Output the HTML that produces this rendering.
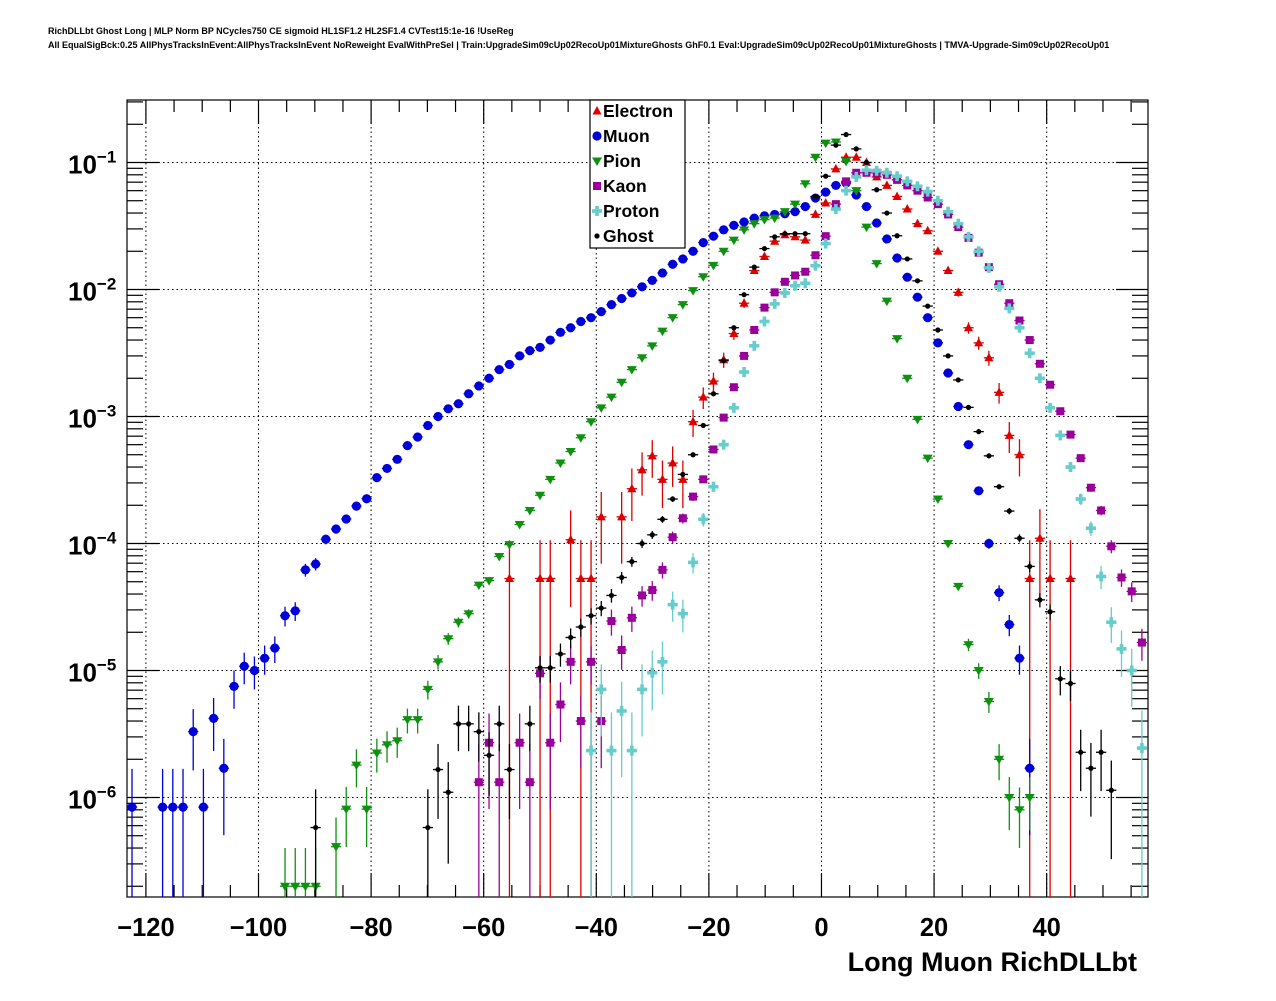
<!DOCTYPE html>
<html><head><meta charset="utf-8"><style>
body{margin:0;background:#fff;}
svg text{font-family:"Liberation Sans",Arial,sans-serif;}
</style></head><body>
<svg id="c" width="1276" height="996" xmlns="http://www.w3.org/2000/svg">
<rect width="1276" height="996" fill="#fff"/>
<text x="48" y="34" font-size="9" font-weight="bold">RichDLLbt Ghost Long | MLP Norm BP NCycles750 CE sigmoid HL1SF1.2 HL2SF1.4 CVTest15:1e-16 !UseReg</text>
<text x="48" y="48" font-size="9" font-weight="bold">All EqualSigBck:0.25 AllPhysTracksInEvent:AllPhysTracksInEvent NoReweight EvalWithPreSel | Train:UpgradeSim09cUp02RecoUp01MixtureGhosts GhF0.1 Eval:UpgradeSim09cUp02RecoUp01MixtureGhosts | TMVA-Upgrade-Sim09cUp02RecoUp01</text>
<g id="grid"></g><g id="axes"></g><g id="marks"></g><g id="legend"></g>
</svg>
<script>
const xMin = -123.36, xMax = 58.0;
const binFirst = -122.47, binWidth = 1.812;
const xTicks = [-120,-100,-80,-60,-40,-20,0,20,40];
const yDecades = [-1,-2,-3,-4,-5,-6];
const muonStart = 0;
const muonVals = [8.4e-7,null,null,8.4e-7,8.4e-7,8.4e-7,3.3e-6,8.4e-7,4.2e-6,1.7e-6,7.5e-6,1.08e-5,1.0e-5,1.25e-5,1.5e-5,2.7e-5,2.95e-5,6.2e-5,6.9e-5,1.08e-4,1.3e-4,1.56e-4,1.97e-4,2.25e-4,3.3e-4,3.9e-4,4.6e-4,5.9e-4,6.9e-4,8.5e-4,1.0e-3,1.15e-3,1.26e-3,1.51e-3,1.74e-3,2.0e-3,2.34e-3,2.57e-3,3.0e-3,3.3e-3,3.5e-3,4.0e-3,4.6e-3,5.0e-3,5.6e-3,6.0e-3,6.7e-3,7.6e-3,8.5e-3,9.4e-3,1.05e-2,1.18e-2,1.35e-2,1.58e-2,1.74e-2,2.0e-2,2.34e-2,2.63e-2,2.95e-2,3.2e-2,3.4e-2,3.65e-2,3.8e-2,3.9e-2,3.95e-2,4.1e-2,4.5e-2,5.25e-2,5.85e-2,6.6e-2,6.9e-2,5.55e-2,4.5e-2,3.34e-2,2.5e-2,1.77e-2,1.25e-2,8.7e-3,6.0e-3,3.8e-3,2.2e-3,1.2e-3,6.0e-4,2.6e-4,1.0e-4,4.1e-5,2.3e-5,1.25e-5,1.7e-6];
const pionStart = 15;
const pionVals = [2.0e-7,2.0e-7,2.0e-7,2.0e-7,null,4.1e-7,8.1e-7,1.8e-6,8.1e-7,2.24e-6,2.6e-6,2.8e-6,4.1e-6,4.1e-6,7.1e-6,1.17e-5,1.78e-5,2.4e-5,2.8e-5,4.7e-5,5.1e-5,7.9e-5,9.8e-5,1.41e-4,1.82e-4,2.4e-4,3.2e-4,4.3e-4,5.3e-4,6.8e-4,9.1e-4,1.17e-3,1.42e-3,1.86e-3,2.34e-3,2.9e-3,3.6e-3,4.7e-3,6.0e-3,7.6e-3,9.8e-3,1.26e-2,1.55e-2,2.0e-2,2.45e-2,2.95e-2,3.3e-2,3.55e-2,3.65e-2,4.1e-2,4.7e-2,6.8e-2,1.1e-1,1.42e-1,1.45e-1,1.02e-1,6.0e-2,3.1e-2,1.6e-2,8.1e-3,4.1e-3,2.0e-3,9.5e-4,4.7e-4,2.24e-4,1.0e-4,4.6e-5,1.6e-5,1.0e-5,5.7e-6,2.0e-6,1.0e-6,8.0e-7,1.0e-6];
const electronStart = 37;
const electronVals = [5.3e-5,null,null,5.3e-5,5.3e-5,null,1.07e-4,5.3e-5,5.3e-5,1.62e-4,null,1.62e-4,2.7e-4,3.8e-4,4.9e-4,3.2e-4,4.3e-4,3.2e-4,9.1e-4,1.42e-3,1.9e-3,2.8e-3,4.5e-3,7.8e-3,1.41e-2,1.82e-2,2.4e-2,2.7e-2,2.6e-2,2.45e-2,3.9e-2,4.8e-2,8.9e-2,1.1e-1,1.1e-1,1.0e-1,7.7e-2,6.6e-2,5.4e-2,4.3e-2,3.3e-2,2.9e-2,2.0e-2,1.41e-2,9.5e-3,5.0e-3,3.8e-3,2.9e-3,1.55e-3,7.1e-4,5.0e-4,5.3e-5,1.1e-4,5.3e-5,null,5.3e-5];
const kaonStart = 34;
const kaonVals = [1.32e-6,2.7e-6,1.32e-6,null,2.7e-6,1.32e-6,9.5e-6,2.7e-6,5.4e-6,1.17e-5,4.0e-6,1.17e-5,4.0e-6,2.45e-5,1.45e-5,2.6e-5,3.9e-5,4.3e-5,6.2e-5,1.12e-4,1.58e-4,2.34e-4,3.2e-4,5.5e-4,9.8e-4,1.7e-3,3.0e-3,4.8e-3,7.2e-3,9.5e-3,1.15e-2,1.29e-2,1.38e-2,1.86e-2,2.63e-2,4.7e-2,7.1e-2,8.3e-2,8.3e-2,8.3e-2,8.0e-2,7.3e-2,6.6e-2,6.0e-2,5.3e-2,4.7e-2,3.9e-2,3.1e-2,2.55e-2,1.95e-2,1.5e-2,1.1e-2,7.8e-3,5.7e-3,4.0e-3,2.6e-3,1.78e-3,1.1e-3,7.2e-4,4.7e-4,2.75e-4,1.82e-4,9.5e-5,5.4e-5,4.2e-5,1.66e-5];
const protonStart = 45;
const protonVals = [2.34e-6,7.1e-6,2.34e-6,4.8e-6,2.34e-6,7.1e-6,9.6e-6,1.17e-5,3.3e-5,2.8e-5,7.1e-5,1.55e-4,2.8e-4,6.0e-4,1.17e-3,2.24e-3,3.6e-3,5.6e-3,7.7e-3,9.4e-3,1.07e-2,1.12e-2,1.54e-2,2.3e-2,4.3e-2,6.0e-2,7.7e-2,8.7e-2,8.6e-2,8.3e-2,7.8e-2,7.1e-2,6.5e-2,5.9e-2,5.0e-2,4.1e-2,3.3e-2,2.6e-2,2.0e-2,1.48e-2,1.05e-2,7.1e-3,5.0e-3,3.15e-3,2.0e-3,1.17e-3,7.1e-4,4.0e-4,2.24e-4,1.32e-4,5.5e-5,2.4e-5,1.48e-5,1.0e-5,2.45e-6];
const ghostStart = 18;
const ghostVals = [5.8e-7,null,null,null,null,null,null,null,null,null,null,5.8e-7,1.66e-6,1.1e-6,3.8e-6,3.8e-6,3.3e-6,2.15e-6,3.8e-6,1.66e-6,null,3.8e-6,1.05e-5,1.05e-5,1.35e-5,1.82e-5,2.2e-5,2.7e-5,3.1e-5,3.9e-5,5.4e-5,7.2e-5,1.0e-4,1.17e-4,1.55e-4,2.24e-4,3.5e-4,5.0e-4,8.5e-4,1.51e-3,2.75e-3,5.0e-3,9.1e-3,1.5e-2,2.1e-2,2.6e-2,2.75e-2,2.75e-2,2.75e-2,5.4e-2,7.8e-2,1.37e-1,1.66e-1,1.28e-1,1.0e-1,6.1e-2,4.0e-2,2.65e-2,1.74e-2,1.17e-2,7.4e-3,4.8e-3,3.0e-3,1.94e-3,1.18e-3,7.6e-4,4.9e-4,2.8e-4,1.8e-4,1.1e-4,6.6e-5,3.6e-5,2.9e-5,8.6e-6,7.9e-6,2.27e-6,1.7e-6,2.27e-6,1.14e-6];
const seriesNames = ["Electron","Muon","Pion","Kaon","Proton","Ghost"];
const unitWeights = [5.3e-5,8.4e-7,2.0e-7,1.32e-6,2.34e-6,5.8e-7];

const L=127,R=1148,T=100,B=897;
const NS="http://www.w3.org/2000/svg";
function X(v){return L+(v-xMin)*(R-L)/(xMax-xMin);}
function Y(v){return 162.5+(-1-Math.log10(v))*127;}
function mk(tag,attrs,parent){const e=document.createElementNS(NS,tag);for(const k in attrs)e.setAttribute(k,attrs[k]);parent.appendChild(e);return e;}
const grid=document.getElementById('grid'),axes=document.getElementById('axes'),marks=document.getElementById('marks'),leg=document.getElementById('legend');

xTicks.forEach(t=>{const l=mk('line',{x1:X(t),x2:X(t),y1:T,y2:B,stroke:'#000','stroke-width':1,'stroke-dasharray':'1.5,3'},grid);

});
yDecades.forEach(d=>{const y=Y(Math.pow(10,d));const l=mk('line',{x1:L,x2:R,y1:y,y2:y,stroke:'#000','stroke-width':1,'stroke-dasharray':'1.5,3'},grid);

});

const fr=mk('rect',{x:L,y:T,width:R-L,height:B-T,fill:'none',stroke:'#000','stroke-width':1.2},axes);


for(let v=-120;v<=55;v+=5){const x=X(v);const major=(v%20===0);const len=major?24:12;
 mk('line',{x1:x,x2:x,y1:B,y2:B-len,stroke:'#000','stroke-width':1.2},axes);
 mk('line',{x1:x,x2:x,y1:T,y2:T+len,stroke:'#000','stroke-width':1.2},axes);}
xTicks.forEach(t=>{const tx=mk('text',{x:X(t),y:936,'font-size':25.5,'font-weight':'bold','text-anchor':'middle'},axes);
 tx.textContent=(t<0?'\u2212'+(-t):String(t));
 
 });
for(let d=-7;d<=-1;d++){for(let m=1;m<=9;m++){const v=m*Math.pow(10,d);const y=Y(v);if(y<T||y>B)continue;const len=m===1?32:16;
 mk('line',{x1:L,x2:L+len,y1:y,y2:y,stroke:'#000','stroke-width':1.2},axes);
 mk('line',{x1:R,x2:R-len,y1:y,y2:y,stroke:'#000','stroke-width':1.2},axes);}}
yDecades.forEach(d=>{const y=Y(Math.pow(10,d));const g=mk('text',{x:68,y:y+11,'font-size':26,'font-weight':'bold'},axes);
 
 
 const t1=mk('tspan',{},g);t1.textContent='10';
 const t2=mk('tspan',{dy:-11,'font-size':17},g);t2.textContent='\u2212'+(-d);});
const xt=mk('text',{x:1137,y:971,'font-size':27,'font-weight':'bold','text-anchor':'end'},axes);
xt.textContent='Long Muon RichDLLbt';



const colors=['#dd0000','#0000d8','#109010','#990099','#66cccc','#000000'];
function marker(type,x,y,g,col){
 if(type===0)mk('polygon',{points:`${x},${y-5} ${x-4.5},${y+3.5} ${x+4.5},${y+3.5}`,fill:col},g);
 else if(type===1)mk('circle',{cx:x,cy:y,r:4.6,fill:col},g);
 else if(type===2)mk('polygon',{points:`${x},${y+5} ${x-5},${y-3.5} ${x+5},${y-3.5}`,fill:col},g);
 else if(type===3)mk('rect',{x:x-4,y:y-4,width:8,height:8,fill:col},g);
 else if(type===4){mk('rect',{x:x-5,y:y-1.8,width:10,height:3.6,fill:col},g);mk('rect',{x:x-1.8,y:y-5,width:3.6,height:10,fill:col},g);}
 else mk('circle',{cx:x,cy:y,r:2.6,fill:col},g);
}
function drawSeries(idx,start,vals){
 const col=colors[idx];const g=mk('g',{},marks);
 
 
 const hw=binWidth/2;
 vals.forEach((v,i)=>{if(v===null)return;const xc=binFirst+(start+i)*binWidth;const x=X(xc),y=Y(v);
  const err=Math.sqrt(v*unitWeights[idx]);
  const hi=Y(v+err);const lo=(v-err)>1e-9?Math.min(Y(v-err),B):B;
  const pg=mk('g',{},g);
  
  
  mk('line',{x1:X(xc-hw),x2:X(xc+hw),y1:y,y2:y,stroke:col,'stroke-width':1.3},pg);
  mk('line',{x1:x,x2:x,y1:Math.max(hi,T),y2:lo,stroke:col,'stroke-width':1.3},pg);
  marker(idx,x,y,pg,col);});
}
drawSeries(0,electronStart,electronVals);
drawSeries(1,muonStart,muonVals);
drawSeries(2,pionStart,pionVals);
drawSeries(3,kaonStart,kaonVals);
drawSeries(4,protonStart,protonVals);
drawSeries(5,ghostStart,ghostVals);

const lb=mk('rect',{x:590,y:100,width:95,height:148,fill:'#fff',stroke:'#000','stroke-width':1.2},leg);


seriesNames.forEach((n,i)=>{const y=111+i*25;const eg=mk('g',{},leg);
 
 
 marker(i,597,y,eg,colors[i]);
 const t=mk('text',{x:603,y:y+6,'font-size':17.5,'font-weight':'bold'},eg);t.textContent=n;});
</script>
</body></html>
